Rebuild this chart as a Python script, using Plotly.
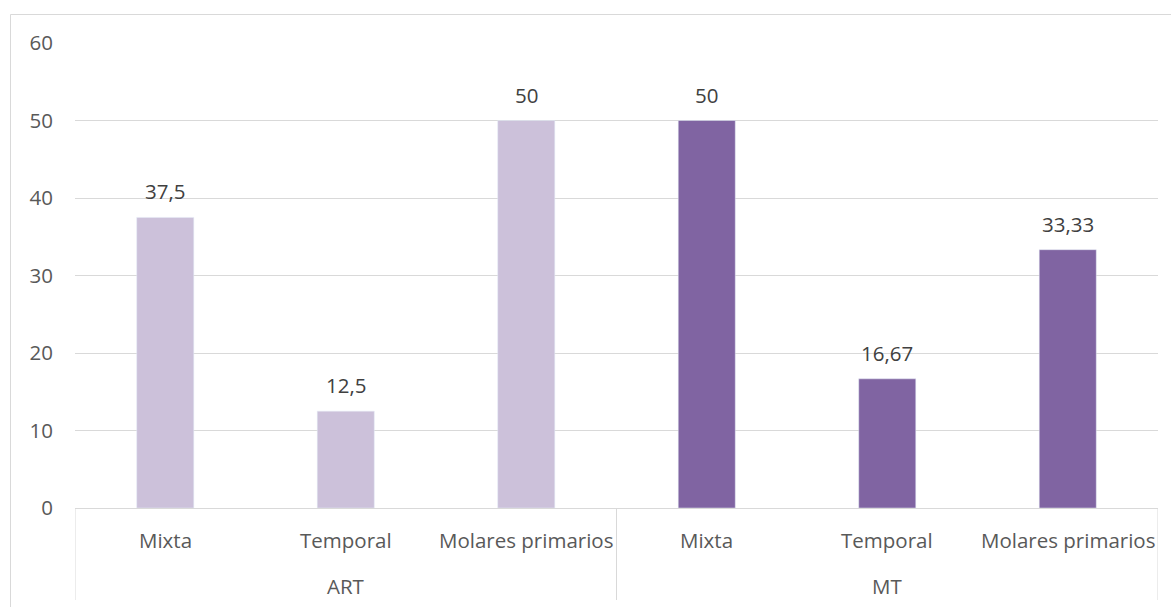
import plotly.graph_objects as go

groups = ["ART", "MT"]
categories = ["Mixta", "Temporal", "Molares primarios"]
art_values = [37.5, 12.5, 50]
mt_values = [50, 16.67, 33.33]
art_labels = ["37,5", "12,5", "50"]
mt_labels = ["50", "16,67", "33,33"]
y_ticks = [0, 10, 20, 30, 40, 50, 60]

light = "#CCC1DA"
dark = "#8064A2"
txt = "#595959"
lbl = "#404040"
grid = "#D9D9D9"
font_family = "Open Sans"
fs = 20.5

n = len(categories)
x_art = list(range(n))
x_mt = list(range(n, 2 * n))

fig = go.Figure()
fig.add_trace(go.Bar(x=x_art, y=art_values, marker_color=light, name="ART"))
fig.add_trace(go.Bar(x=x_mt, y=mt_values, marker_color=dark, name="MT"))

W, H = 1171, 607
L, R, T, B = 75, 13, 43, 99
pw, ph = W - L - R, H - T - B

def py(ypix):
    return (H - B - ypix) / ph

def px(xpix):
    return (xpix - L) / pw

annotations = []
for xs, vals, labs in [(x_art, art_values, art_labels), (x_mt, mt_values, mt_labels)]:
    for xv, v, lab in zip(xs, vals, labs):
        annotations.append(dict(x=xv, y=v, xref="x", yref="y", text=lab, showarrow=False,
                                font=dict(color=lbl, size=fs, family=font_family),
                                xanchor="center", yanchor="middle", yshift=26))

for gi, g in enumerate(groups):
    for ci, c in enumerate(categories):
        annotations.append(dict(x=gi * n + ci, y=py(540), xref="x", yref="paper",
                                text=c, showarrow=False,
                                font=dict(color=txt, size=fs, family=font_family),
                                xanchor="center", yanchor="middle"))
    annotations.append(dict(x=gi * n + (n - 1) / 2, y=py(586), xref="x", yref="paper",
                            text=g, showarrow=False,
                            font=dict(color=txt, size=fs, family=font_family),
                            xanchor="center", yanchor="middle"))

shapes = []
for b in [-0.5, n - 0.5, 2 * n - 0.5]:
    shapes.append(dict(type="line", x0=b, x1=b, xref="x", y0=0, y1=py(600), yref="paper",
                       line=dict(color=grid, width=1)))
# outer chart border
shapes.append(dict(type="line", x0=px(10.5), x1=px(10.5), xref="paper", y0=py(14.5), y1=py(610),
                   yref="paper", line=dict(color=grid, width=1)))
shapes.append(dict(type="line", x0=px(10.5), x1=px(1175), xref="paper", y0=py(14.5), y1=py(14.5),
                   yref="paper", line=dict(color=grid, width=1)))

fig.update_layout(
    width=W, height=H,
    margin=dict(l=L, r=R, t=T, b=B),
    plot_bgcolor="white", paper_bgcolor="white",
    showlegend=False,
    bargap=0.684,
    xaxis=dict(range=[-0.5, 2 * n - 0.5], showticklabels=False, showgrid=False,
               zeroline=False, showline=False, ticks=""),
    yaxis=dict(range=[0, 60], tickvals=y_ticks, showgrid=True, gridcolor=grid, gridwidth=1,
               zeroline=True, zerolinecolor=grid, zerolinewidth=1, showline=False,
               tickfont=dict(color=txt, size=fs, family=font_family),
               ticks="outside", ticklen=0, ticklabelstandoff=17),
    annotations=annotations,
    shapes=shapes,
)

fig.write_html("out.html")
